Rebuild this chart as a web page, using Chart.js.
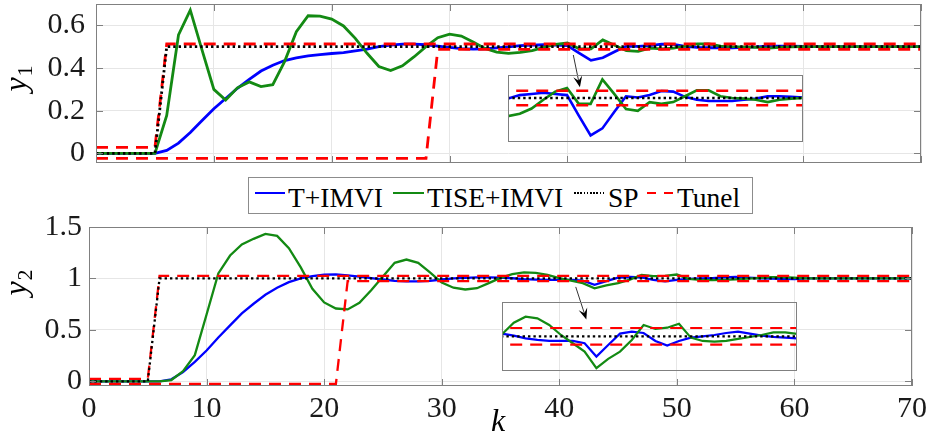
<!DOCTYPE html>
<html>
<head>
<meta charset="utf-8">
<script src="https://cdn.jsdelivr.net/npm/chart.js@4.4.1/dist/chart.umd.min.js"></script>
<style>
  body { margin: 0; background: #fff; width: 932px; height: 441px; position: relative; overflow: hidden; }
  canvas { position: absolute; left: 0; }
  #legend { position: absolute; left: 248px; top: 177px; width: 505px; height: 37px; box-sizing: border-box;
            border: 1px solid #8c8c8c; background: #fff; z-index: 5;
            font-family: "Liberation Serif", "Times New Roman", serif; font-size: 27.5px; color: #000; }
  #legend .ln { position: absolute; top: 14px; height: 2.4px; }
  #legend .tx { position: absolute; top: 5px; line-height: 30px; white-space: nowrap; }
</style>
</head>
<body>
<canvas id="chartTop" width="932" height="230" style="top:-30px"></canvas>
<canvas id="chartBot" width="932" height="241" style="top:200px"></canvas>
<canvas id="insetTop" width="295" height="67" style="left:508px;top:75px"></canvas>
<canvas id="insetBot" width="295" height="69" style="left:502px;top:302px"></canvas>
<div id="legend">
  <span class="ln" style="left:6px;width:30px;background:#0000ff"></span>
  <span class="tx" style="left:39px">T+IMVI</span>
  <span class="ln" style="left:144px;width:31px;background:#138a13"></span>
  <span class="tx" style="left:178px">TISE+IMVI</span>
  <span class="ln" style="left:325px;width:32px;background:repeating-linear-gradient(90deg,#000 0 1.6px,transparent 1.6px 3.2px)"></span>
  <span class="tx" style="left:359px">SP</span>
  <span class="ln" style="left:398px;width:26px;background:repeating-linear-gradient(90deg,#ff0000 0 9px,transparent 9px 17px)"></span>
  <span class="tx" style="left:428px">Tunel</span>
</div>
<script>
// sample index k
const K = [0, 1, 2, 3, 4, 5, 6, 7, 8, 9,
           10, 11, 12, 13, 14, 15, 16, 17, 18, 19,
           20, 21, 22, 23, 24, 25, 26, 27, 28, 29,
           30, 31, 32, 33, 34, 35, 36, 37, 38, 39,
           40, 41, 42, 43, 44, 45, 46, 47, 48, 49,
           50, 51, 52, 53, 54, 55, 56, 57, 58, 59,
           60, 61, 62, 63, 64, 65, 66, 67, 68, 69, 70];

// ---- output y1 ----
const Y1_T = [0, 0, 0, 0, 0, 0, 0.014, 0.048, 0.098, 0.154,
              0.209, 0.257, 0.305, 0.347, 0.386, 0.413, 0.435, 0.447, 0.457, 0.463,
              0.468, 0.472, 0.480, 0.489, 0.500, 0.507, 0.512, 0.512, 0.509, 0.503,
              0.497, 0.491, 0.489, 0.490, 0.494, 0.499, 0.505, 0.507, 0.509, 0.507,
              0.505, 0.470, 0.436, 0.448, 0.476, 0.503, 0.501, 0.505, 0.512, 0.511,
              0.502, 0.497, 0.495, 0.495, 0.495, 0.497, 0.499, 0.503, 0.503, 0.502,
              0.501, 0.500, 0.500, 0.500, 0.500, 0.500, 0.500, 0.500, 0.500, 0.500, 0.500];
const Y1_TISE = [0, 0, 0, 0, 0, 0, 0.178, 0.555, 0.671, 0.484,
                 0.300, 0.250, 0.307, 0.335, 0.313, 0.322, 0.430, 0.570, 0.645, 0.643,
                 0.629, 0.597, 0.539, 0.469, 0.407, 0.388, 0.410, 0.453, 0.500, 0.542,
                 0.559, 0.550, 0.522, 0.492, 0.475, 0.469, 0.473, 0.482, 0.497, 0.511,
                 0.517, 0.490, 0.490, 0.532, 0.507, 0.481, 0.478, 0.493, 0.490, 0.493,
                 0.503, 0.513, 0.513, 0.503, 0.500, 0.499, 0.497, 0.493, 0.497, 0.499,
                 0.500, 0.500, 0.500, 0.500, 0.500, 0.500, 0.500, 0.500, 0.500, 0.500, 0.500];
const Y1_SP = [0, 0, 0, 0, 0, 0, 0.5, 0.5, 0.5, 0.5,
               0.5, 0.5, 0.5, 0.5, 0.5, 0.5, 0.5, 0.5, 0.5, 0.5,
               0.5, 0.5, 0.5, 0.5, 0.5, 0.5, 0.5, 0.5, 0.5, 0.5,
               0.5, 0.5, 0.5, 0.5, 0.5, 0.5, 0.5, 0.5, 0.5, 0.5,
               0.5, 0.5, 0.5, 0.5, 0.5, 0.5, 0.5, 0.5, 0.5, 0.5,
               0.5, 0.5, 0.5, 0.5, 0.5, 0.5, 0.5, 0.5, 0.5, 0.5,
               0.5, 0.5, 0.5, 0.5, 0.5, 0.5, 0.5, 0.5, 0.5, 0.5, 0.5];
const Y1_TUN_UP = [0.028, 0.028, 0.028, 0.028, 0.028, 0.028, 0.5125, 0.5125, 0.5125, 0.5125,
                   0.5125, 0.5125, 0.5125, 0.5125, 0.5125, 0.5125, 0.5125, 0.5125, 0.5125, 0.5125,
                   0.5125, 0.5125, 0.5125, 0.5125, 0.5125, 0.5125, 0.5125, 0.5125, 0.5125, 0.5125,
                   0.5125, 0.5125, 0.5125, 0.5125, 0.5125, 0.5125, 0.5125, 0.5125, 0.5125, 0.5125,
                   0.5125, 0.5125, 0.5125, 0.5125, 0.5125, 0.5125, 0.5125, 0.5125, 0.5125, 0.5125,
                   0.5125, 0.5125, 0.5125, 0.5125, 0.5125, 0.5125, 0.5125, 0.5125, 0.5125, 0.5125,
                   0.5125, 0.5125, 0.5125, 0.5125, 0.5125, 0.5125, 0.5125, 0.5125, 0.5125, 0.5125, 0.5125];
const Y1_TUN_LO = [-0.023, -0.023, -0.023, -0.023, -0.023, -0.023, -0.023, -0.023, -0.023, -0.023,
                   -0.023, -0.023, -0.023, -0.023, -0.023, -0.023, -0.023, -0.023, -0.023, -0.023,
                   -0.023, -0.023, -0.023, -0.023, -0.023, -0.023, -0.023, -0.023, -0.023, 0.4875,
                   0.4875, 0.4875, 0.4875, 0.4875, 0.4875, 0.4875, 0.4875, 0.4875, 0.4875, 0.4875,
                   0.4875, 0.4875, 0.4875, 0.4875, 0.4875, 0.4875, 0.4875, 0.4875, 0.4875, 0.4875,
                   0.4875, 0.4875, 0.4875, 0.4875, 0.4875, 0.4875, 0.4875, 0.4875, 0.4875, 0.4875,
                   0.4875, 0.4875, 0.4875, 0.4875, 0.4875, 0.4875, 0.4875, 0.4875, 0.4875, 0.4875, 0.4875];

// ---- output y2 ----
const Y2_T = [0, 0, 0, 0, 0, 0, 0, 0.020, 0.090, 0.190,
              0.300, 0.427, 0.544, 0.660, 0.754, 0.841, 0.909, 0.964, 1.000, 1.023,
              1.036, 1.039, 1.030, 1.018, 1.003, 0.990, 0.977, 0.971, 0.971, 0.977,
              0.990, 1.000, 1.006, 1.010, 1.010, 1.008, 1.002, 0.994, 0.989, 0.986,
              0.986, 0.986, 0.979, 0.939, 0.974, 1.008, 1.014, 1.010, 0.986, 0.972,
              0.986, 0.996, 1.000, 1.004, 1.010, 1.014, 1.008, 1.002, 0.998, 0.996,
              0.994, 1.000, 1.000, 1.000, 1.000, 1.000, 1.000, 1.000, 1.000, 1.000, 1.000];
const Y2_TISE = [0, 0, 0, 0, 0, 0, 0, 0.013, 0.100, 0.255,
                 0.650, 1.049, 1.223, 1.330, 1.385, 1.433, 1.414, 1.294, 1.110, 0.900,
                 0.767, 0.708, 0.699, 0.763, 0.886, 1.020, 1.152, 1.184, 1.152, 1.060,
                 0.960, 0.910, 0.893, 0.905, 0.955, 1.006, 1.041, 1.059, 1.054, 1.034,
                 1.004, 0.979, 0.954, 0.904, 0.932, 0.954, 0.989, 1.034, 1.022, 1.026,
                 1.038, 0.996, 0.986, 0.984, 0.986, 0.992, 0.998, 1.004, 1.012, 1.012,
                 1.007, 1.000, 1.000, 1.000, 1.000, 1.000, 1.000, 1.000, 1.000, 1.000, 1.000];
const Y2_SP = [0, 0, 0, 0, 0, 0, 1, 1, 1, 1,
               1, 1, 1, 1, 1, 1, 1, 1, 1, 1,
               1, 1, 1, 1, 1, 1, 1, 1, 1, 1,
               1, 1, 1, 1, 1, 1, 1, 1, 1, 1,
               1, 1, 1, 1, 1, 1, 1, 1, 1, 1,
               1, 1, 1, 1, 1, 1, 1, 1, 1, 1,
               1, 1, 1, 1, 1, 1, 1, 1, 1, 1, 1];
const Y2_TUN_UP = [0.025, 0.025, 0.025, 0.025, 0.025, 0.025, 1.025, 1.025, 1.025, 1.025,
                   1.025, 1.025, 1.025, 1.025, 1.025, 1.025, 1.025, 1.025, 1.025, 1.025,
                   1.025, 1.025, 1.025, 1.025, 1.025, 1.025, 1.025, 1.025, 1.025, 1.025,
                   1.025, 1.025, 1.025, 1.025, 1.025, 1.025, 1.025, 1.025, 1.025, 1.025,
                   1.025, 1.025, 1.025, 1.025, 1.025, 1.025, 1.025, 1.025, 1.025, 1.025,
                   1.025, 1.025, 1.025, 1.025, 1.025, 1.025, 1.025, 1.025, 1.025, 1.025,
                   1.025, 1.025, 1.025, 1.025, 1.025, 1.025, 1.025, 1.025, 1.025, 1.025, 1.025];
const Y2_TUN_LO = [-0.025, -0.025, -0.025, -0.025, -0.025, -0.025, -0.025, -0.025, -0.025, -0.025,
                   -0.025, -0.025, -0.025, -0.025, -0.025, -0.025, -0.025, -0.025, -0.025, -0.025,
                   -0.025, -0.025, 0.975, 0.975, 0.975, 0.975, 0.975, 0.975, 0.975, 0.975,
                   0.975, 0.975, 0.975, 0.975, 0.975, 0.975, 0.975, 0.975, 0.975, 0.975,
                   0.975, 0.975, 0.975, 0.975, 0.975, 0.975, 0.975, 0.975, 0.975, 0.975,
                   0.975, 0.975, 0.975, 0.975, 0.975, 0.975, 0.975, 0.975, 0.975, 0.975,
                   0.975, 0.975, 0.975, 0.975, 0.975, 0.975, 0.975, 0.975, 0.975, 0.975, 0.975];

// ticks
const X_TICKS = [0, 10, 20, 30, 40, 50, 60, 70];
const Y1_TICKS = [0, 0.2, 0.4, 0.6];
const Y2_TICKS = [0, 0.5, 1, 1.5];

// arrows pointing into the insets (data coords: start -> tip)
const ARROW_1 = [40.5, 0.461, 41.06, 0.31];
const ARROW_2 = [41.4, 0.918, 42.3, 0.602];

const FONT = '"Liberation Serif", "Times New Roman", serif';
const GREEN = '#138a13';
const GRID = '#e6e6e6';
const EDGE = '#808080';

function pts(vals) {
  return K.map((k, i) => ({x: k, y: vals[i]}));
}

function makeDatasets(s, w) {
  return [
    {label: 'T+IMVI', data: pts(s.t), borderColor: '#0000ff', borderWidth: w, order: 3},
    {label: 'TISE+IMVI', data: pts(s.tise), borderColor: GREEN, borderWidth: w, order: 2},
    {label: 'SP', data: pts(s.sp), borderColor: '#000000', borderWidth: w, borderDash: [2.4, 3], order: 0},
    {label: 'Tunel', data: pts(s.up), borderColor: '#ff0000', borderWidth: w, borderDash: [12, 8], order: 1},
    {label: 'Tunel', data: pts(s.lo), borderColor: '#ff0000', borderWidth: w, borderDash: [12, 8], order: 1}
  ];
}

function drawArrow(ctx, x0, y0, x1, y1) {
  const a = Math.atan2(y1 - y0, x1 - x0);
  const c = Math.cos(a), s = Math.sin(a);
  const L = 11, W = 4.5;
  ctx.strokeStyle = '#333';
  ctx.lineWidth = 1;
  ctx.beginPath();
  ctx.moveTo(x0, y0);
  ctx.lineTo(x1 - 6 * c, y1 - 6 * s);
  ctx.stroke();
  ctx.fillStyle = '#000';
  ctx.beginPath();
  ctx.moveTo(x1, y1);
  ctx.lineTo(x1 - L * c - W * s, y1 - L * s + W * c);
  ctx.lineTo(x1 - 0.6 * L * c, y1 - 0.6 * L * s);
  ctx.lineTo(x1 - L * c + W * s, y1 - L * s - W * c);
  ctx.closePath();
  ctx.fill();
}

// frame with inward ticks, y label, arrow, k label
const deco = {
  id: 'deco',
  afterDraw(chart, args, o) {
    const {ctx, chartArea: a} = chart;
    ctx.save();
    ctx.strokeStyle = EDGE;
    ctx.lineWidth = 1;
    ctx.strokeRect(Math.round(a.left) + 0.5, Math.round(a.top) + 0.5, Math.round(a.width) - 1, Math.round(a.height) - 1);
    if (o.ticks) {
      const x = chart.scales.x, y = chart.scales.y;
      ctx.beginPath();
      x.ticks.forEach(t => {
        const p = Math.round(x.getPixelForValue(t.value)) + 0.5;
        ctx.moveTo(p, a.bottom); ctx.lineTo(p, a.bottom - 7);
        ctx.moveTo(p, a.top); ctx.lineTo(p, a.top + 7);
      });
      y.ticks.forEach(t => {
        const p = Math.round(y.getPixelForValue(t.value)) + 0.5;
        ctx.moveTo(a.left, p); ctx.lineTo(a.left + 7, p);
        ctx.moveTo(a.right, p); ctx.lineTo(a.right - 7, p);
      });
      ctx.stroke();
    }
    if (o.arrow) {
      const x = chart.scales.x, y = chart.scales.y, r = o.arrow;
      drawArrow(ctx, x.getPixelForValue(r[0]), y.getPixelForValue(r[1]),
                x.getPixelForValue(r[2]), y.getPixelForValue(r[3]));
    }
    if (o.ylabel) {
      const l = o.ylabel;
      ctx.translate(l.x, l.y);
      ctx.rotate(-Math.PI / 2);
      ctx.fillStyle = '#000';
      ctx.textBaseline = 'alphabetic';
      ctx.font = 'italic 32px ' + FONT;
      const w1 = ctx.measureText('y').width;
      ctx.font = '22px ' + FONT;
      const w2 = ctx.measureText(l.sub).width;
      const x0 = -(w1 + w2) / 2;
      ctx.font = 'italic 32px ' + FONT;
      ctx.fillText('y', x0, 0);
      ctx.font = '22px ' + FONT;
      ctx.fillText(l.sub, x0 + w1 + 1, 6);
      ctx.setTransform(1, 0, 0, 1, 0, 0);
    }
    if (o.klabel) {
      ctx.fillStyle = '#000';
      ctx.font = 'italic 32px ' + FONT;
      ctx.textAlign = 'center';
      ctx.textBaseline = 'alphabetic';
      ctx.fillText('k', o.klabel.x, o.klabel.y);
    }
    ctx.restore();
  }
};

function mainChart(id, p) {
  return new Chart(document.getElementById(id), {
    type: 'line',
    data: {datasets: makeDatasets(p.series, p.lw)},
    plugins: [deco],
    options: {
      responsive: false,
      animation: false,
      events: [],
      layout: {padding: {top: p.padTop, right: p.padRight, left: 0, bottom: 0}},
      elements: {point: {radius: 0}, line: {tension: 0}},
      plugins: {legend: {display: false}, tooltip: {enabled: false}, deco: p.deco},
      scales: {
        x: {
          type: 'linear', min: 0, max: 70,
          afterBuildTicks: s => { s.ticks = X_TICKS.map(v => ({value: v})); },
          afterFit: s => { s.height = p.xHeight; },
          grid: {color: GRID, drawTicks: false},
          border: {display: false},
          ticks: {display: p.xLabels, padding: 5, color: '#1a1a1a', maxRotation: 0, autoSkip: false,
                  font: {family: FONT, size: 30}, callback: v => String(v)}
        },
        y: {
          min: p.ymin, max: p.ymax,
          afterBuildTicks: s => { s.ticks = p.yTicks.map(v => ({value: v})); },
          afterFit: s => { s.width = p.yWidth; },
          grid: {color: GRID, drawTicks: false},
          border: {display: false},
          ticks: {padding: p.yPad, color: '#1a1a1a', font: {family: FONT, size: 30}, callback: v => String(v)}
        }
      }
    }
  });
}

function insetChart(id, p) {
  return new Chart(document.getElementById(id), {
    type: 'line',
    data: {datasets: makeDatasets(p.series, p.lw)},
    plugins: [deco],
    options: {
      responsive: false,
      animation: false,
      events: [],
      layout: {padding: 0},
      elements: {point: {radius: 0}, line: {tension: 0}},
      plugins: {legend: {display: false}, tooltip: {enabled: false}, deco: {ticks: false}},
      scales: {
        x: {type: 'linear', min: 35, max: 60, display: false},
        y: {min: p.ymin, max: p.ymax, display: false}
      }
    }
  });
}

const S1 = {t: Y1_T, tise: Y1_TISE, sp: Y1_SP, up: Y1_TUN_UP, lo: Y1_TUN_LO};
const S2 = {t: Y2_T, tise: Y2_TISE, sp: Y2_SP, up: Y2_TUN_UP, lo: Y2_TUN_LO};

// top canvas sits 30px above the page, so chart top = 34 - 30 = 4
mainChart('chartTop', {
  series: S1, lw: 2.8, ymin: -0.045, ymax: 0.7, yTicks: Y1_TICKS,
  padTop: 34, padRight: 11, xHeight: 37, yWidth: 96, yPad: 11, xLabels: false,
  deco: {ticks: true, arrow: ARROW_1, ylabel: {x: 26, y: 109, sub: '1'}}
});

mainChart('chartBot', {
  series: S2, lw: 2.3, ymin: -0.045, ymax: 1.5, yTicks: Y2_TICKS,
  padTop: 27, padRight: 18, xHeight: 55, yWidth: 89, yPad: 7, xLabels: true,
  deco: {ticks: true, arrow: ARROW_2, ylabel: {x: 26, y: 83, sub: '2'}, klabel: {x: 498, y: 231}}
});

insetChart('insetTop', {series: S1, lw: 2.6, ymin: 0.4247, ymax: 0.5394});
insetChart('insetBot', {series: S2, lw: 2.2, ymin: 0.8955, ymax: 1.1033});
</script>
</body>
</html>
